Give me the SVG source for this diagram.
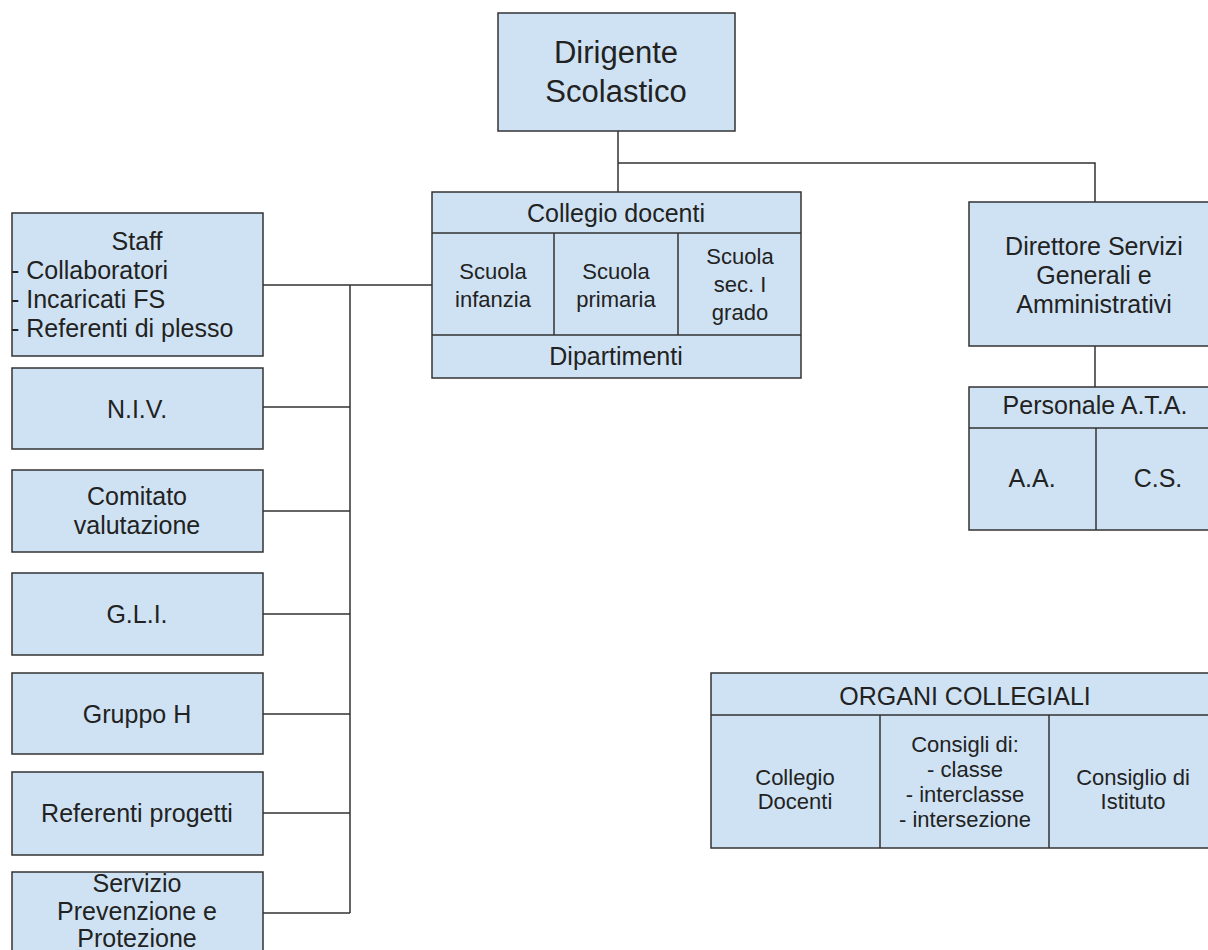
<svg xmlns="http://www.w3.org/2000/svg" width="1208" height="950" viewBox="0 0 1208 950">
<style>
.box{fill:#cfe2f3;stroke:#333;stroke-width:1.5}
.ln{fill:none;stroke:#333;stroke-width:1.5}
text{font-family:"Liberation Sans",Arial,sans-serif;fill:#222;text-anchor:middle}
.t25{font-size:25px}
.t22{font-size:22px}
.t31{font-size:31px}
</style>
<rect width="1208" height="950" fill="#fff"/>
<g id="connectors">
<path class="ln" d="M618 131V192M618 163H1095V202"/>
<path class="ln" d="M263 285H432M350 285V913"/>
<path class="ln" d="M263 407H350M263 511H350M263 614H350M263 714H350M263 813H350M263 913H350"/>
<path class="ln" d="M1095 346V387"/>
</g>
<g id="dirigente">
<rect class="box" x="498" y="13" width="237" height="118"/>
<text class="t31" x="616" y="63">Dirigente</text>
<text class="t31" x="616" y="102">Scolastico</text>
</g>
<g id="collegio-docenti">
<rect class="box" x="432" y="192" width="369" height="186"/>
<path class="ln" d="M432 233H801M432 335H801M554 233V335M678 233V335"/>
<text class="t25" x="616" y="222">Collegio docenti</text>
<text class="t22" x="493" y="279">Scuola</text>
<text class="t22" x="493" y="307">infanzia</text>
<text class="t22" x="616" y="279">Scuola</text>
<text class="t22" x="616" y="307">primaria</text>
<text class="t22" x="740" y="264">Scuola</text>
<text class="t22" x="740" y="292">sec. I</text>
<text class="t22" x="740" y="320">grado</text>
<text class="t25" x="616" y="365">Dipartimenti</text>
</g>
<g id="staff">
<rect class="box" x="12" y="213" width="251" height="143"/>
<text class="t25" x="137" y="250">Staff</text>
<text class="t25" x="11" y="279" style="text-anchor:start">- Collaboratori</text>
<text class="t25" x="11" y="308" style="text-anchor:start">- Incaricati FS</text>
<text class="t25" x="11" y="337" style="text-anchor:start">- Referenti di plesso</text>
</g>
<g id="niv">
<rect class="box" x="12" y="368" width="251" height="81"/>
<text class="t25" x="137" y="418">N.I.V.</text>
</g>
<g id="comitato">
<rect class="box" x="12" y="470" width="251" height="82"/>
<text class="t25" x="137" y="505">Comitato</text>
<text class="t25" x="137" y="534">valutazione</text>
</g>
<g id="gli">
<rect class="box" x="12" y="573" width="251" height="82"/>
<text class="t25" x="137" y="623">G.L.I.</text>
</g>
<g id="gruppo-h">
<rect class="box" x="12" y="673" width="251" height="81"/>
<text class="t25" x="137" y="723">Gruppo H</text>
</g>
<g id="referenti-progetti">
<rect class="box" x="12" y="772" width="251" height="83"/>
<text class="t25" x="137" y="822">Referenti progetti</text>
</g>
<g id="servizio">
<rect class="box" x="12" y="872" width="251" height="100"/>
<text class="t25" x="137" y="892">Servizio</text>
<text class="t25" x="137" y="920">Prevenzione e</text>
<text class="t25" x="137" y="947">Protezione</text>
</g>
<g id="dsga">
<rect class="box" x="969" y="202" width="252" height="144"/>
<text class="t25" x="1094" y="255">Direttore Servizi</text>
<text class="t25" x="1094" y="284">Generali e</text>
<text class="t25" x="1094" y="313">Amministrativi</text>
</g>
<g id="personale-ata">
<rect class="box" x="969" y="387" width="254" height="143"/>
<path class="ln" d="M969 428H1223M1096 428V530"/>
<text class="t25" x="1095" y="414">Personale A.T.A.</text>
<text class="t25" x="1032" y="487">A.A.</text>
<text class="t25" x="1158" y="487">C.S.</text>
</g>
<g id="organi-collegiali">
<rect class="box" x="711" y="673" width="507" height="175"/>
<path class="ln" d="M711 715H1218M880 715V848M1049 715V848"/>
<text class="t25" x="965" y="705">ORGANI COLLEGIALI</text>
<text class="t22" x="795" y="785">Collegio</text>
<text class="t22" x="795" y="809">Docenti</text>
<text class="t22" x="965" y="752">Consigli di:</text>
<text class="t22" x="965" y="777">- classe</text>
<text class="t22" x="965" y="802">- interclasse</text>
<text class="t22" x="965" y="827">- intersezione</text>
<text class="t22" x="1133" y="785">Consiglio di</text>
<text class="t22" x="1133" y="809">Istituto</text>
</g>
</svg>
